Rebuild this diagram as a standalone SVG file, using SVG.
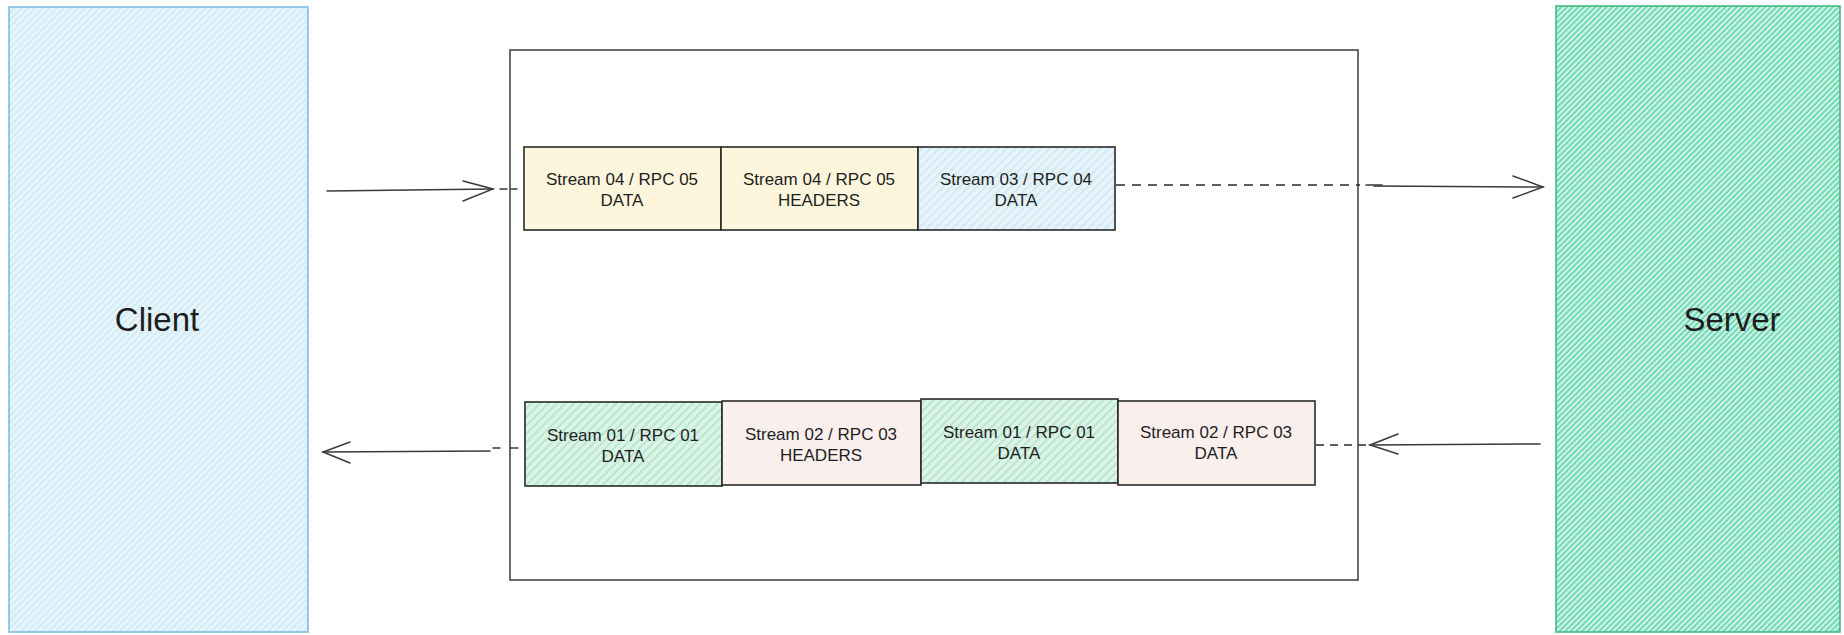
<svg xmlns="http://www.w3.org/2000/svg" width="1844" height="635" viewBox="0 0 1844 635">
<defs>
<pattern id="hClient" width="5" height="5" patternUnits="userSpaceOnUse" patternTransform="rotate(45)">
<rect width="5" height="5" fill="#e6f4fb"/><line x1="1" y1="0" x2="1" y2="5" stroke="#c8e5f3" stroke-width="1.2"/>
</pattern>
<pattern id="hServer" width="4" height="4" patternUnits="userSpaceOnUse" patternTransform="rotate(45)">
<rect width="4" height="4" fill="#d2f4e8"/><line x1="1" y1="0" x2="1" y2="4" stroke="#58d4a8" stroke-width="1.6"/>
</pattern>
<pattern id="hBlue" width="6" height="6" patternUnits="userSpaceOnUse" patternTransform="rotate(45)">
<rect width="6" height="6" fill="#e6f4fa"/><line x1="1" y1="0" x2="1" y2="6" stroke="#c4e3f1" stroke-width="1.2"/>
</pattern>
<pattern id="hGreen" width="6" height="6" patternUnits="userSpaceOnUse" patternTransform="rotate(45)">
<rect width="6" height="6" fill="#dcf3e8"/><line x1="1" y1="0" x2="1" y2="6" stroke="#a9e2c6" stroke-width="1.4"/>
</pattern>
<style>
.frame{stroke:#2a2a2a;stroke-width:1.6}
.yellow{fill:#fdf6dc}
.pink{fill:#fbefee}
.ft{font-family:"Liberation Sans",Arial,sans-serif;font-size:17px;fill:#1e1e1e;text-anchor:middle}
.big{font-family:"Liberation Sans",Arial,sans-serif;font-size:33px;fill:#1e1e1e;text-anchor:middle}
.arr{stroke:#3a3a3a;stroke-width:1.5;fill:none;stroke-linecap:round}
.dash{stroke:#2a2a2a;stroke-width:1.6;fill:none;stroke-dasharray:9 7}
</style>
</defs>
<rect width="1844" height="635" fill="#ffffff"/>

<g id="client">
<rect x="9" y="7" width="299" height="625" fill="url(#hClient)" stroke="#7dbde3" stroke-width="1.6"/>
<text class="big" x="157" y="331">Client</text>
</g>

<g id="server">
<rect x="1556" y="6" width="284" height="626" fill="url(#hServer)" stroke="#44b883" stroke-width="1.6"/>
<text class="big" x="1732" y="331">Server</text>
</g>

<g id="channel">
<rect x="510" y="50" width="848" height="530" fill="#ffffff" stroke="#3a3a3a" stroke-width="1.5"/>
</g>

<g id="connectors">
<!-- top: client -> server -->
<line class="arr" x1="327" y1="191" x2="493" y2="189"/>
<polyline class="arr" points="463,181 493,189 463,201"/>
<line class="arr" x1="500" y1="189" x2="507" y2="189"/>
<line class="arr" x1="511" y1="189" x2="517" y2="189"/>
<line class="dash" x1="1116" y1="185" x2="1360" y2="185"/>
<line class="arr" x1="1366" y1="185" x2="1382" y2="185"/>
<line class="arr" x1="1374" y1="186" x2="1543" y2="187"/>
<polyline class="arr" points="1513,176 1543,187 1513,198"/>
<!-- bottom: server -> client -->
<line class="arr" x1="1540" y1="444" x2="1370" y2="445"/>
<polyline class="arr" points="1398,434 1370,445 1398,454"/>
<line class="dash" x1="1316" y1="445" x2="1366" y2="445" style="stroke-dasharray:8 6"/>
<line class="arr" x1="518" y1="448" x2="510" y2="448"/>
<line class="arr" x1="500" y1="448" x2="493" y2="448"/>
<line class="arr" x1="490" y1="451" x2="323" y2="452"/>
<polyline class="arr" points="350,442 323,452 350,463"/>
</g>

<g id="frame-s4-data">
<rect class="frame yellow" x="524" y="147" width="197" height="83"/>
<text class="ft" x="622" y="185">Stream 04 / RPC 05</text>
<text class="ft" x="622" y="206">DATA</text>
</g>
<g id="frame-s4-headers">
<rect class="frame yellow" x="721" y="147" width="197" height="83"/>
<text class="ft" x="819" y="185">Stream 04 / RPC 05</text>
<text class="ft" x="819" y="206">HEADERS</text>
</g>
<g id="frame-s3-data">
<rect class="frame" x="918" y="147" width="197" height="83" fill="url(#hBlue)"/>
<text class="ft" x="1016" y="185">Stream 03 / RPC 04</text>
<text class="ft" x="1016" y="206">DATA</text>
</g>

<g id="frame-s1-data-a">
<rect class="frame" x="525" y="402" width="197" height="84" fill="url(#hGreen)"/>
<text class="ft" x="623" y="441">Stream 01 / RPC 01</text>
<text class="ft" x="623" y="462">DATA</text>
</g>
<g id="frame-s2-headers">
<rect class="frame pink" x="722" y="401" width="199" height="84"/>
<text class="ft" x="821" y="440">Stream 02 / RPC 03</text>
<text class="ft" x="821" y="461">HEADERS</text>
</g>
<g id="frame-s1-data-b">
<rect class="frame" x="921" y="399" width="197" height="84" fill="url(#hGreen)"/>
<text class="ft" x="1019" y="438">Stream 01 / RPC 01</text>
<text class="ft" x="1019" y="459">DATA</text>
</g>
<g id="frame-s2-data">
<rect class="frame pink" x="1118" y="401" width="197" height="84"/>
<text class="ft" x="1216" y="438">Stream 02 / RPC 03</text>
<text class="ft" x="1216" y="459">DATA</text>
</g>
</svg>
